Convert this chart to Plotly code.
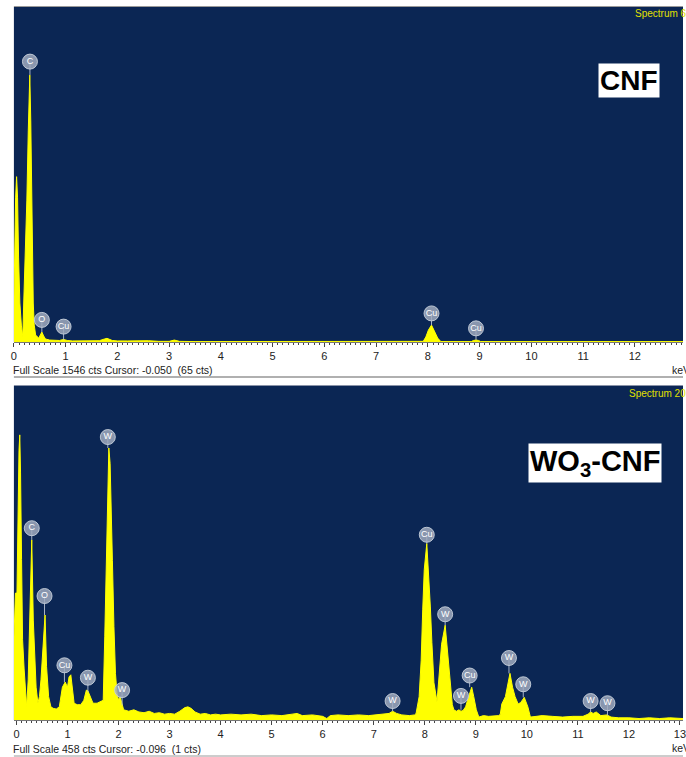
import plotly.graph_objects as go

# ---------------- data ----------------
# Top spectrum: CNF (Full scale 1546 cts)
top_E = [0.00, 0.013, 0.033, 0.052, 0.071, 0.09, 0.115, 0.144, 0.172,
         0.19, 0.22, 0.25, 0.278, 0.307, 0.326, 0.335, 0.354, 0.374, 0.393, 0.42,
         0.48, 0.52, 0.54, 0.575, 0.61, 0.69, 0.79, 0.88, 0.96, 1.03, 1.13,
         1.3, 1.5, 1.65, 1.75, 1.8, 1.9, 2.0, 2.2, 2.4, 2.5, 2.6, 2.8, 3.0, 3.1, 3.2,
         3.5, 4.0, 5.0, 6.0, 7.0, 7.85, 7.91, 7.96, 8.01, 8.07, 8.12, 8.19, 8.25,
         8.84, 8.88, 8.93, 8.98, 9.02, 10.0, 11.0, 12.0, 12.93]
top_cts = [180, 392, 665, 763, 665, 392, 180, 78, 23,
           180, 392, 655, 978, 1232, 1020, 840, 438, 180, 78, 32,
           18, 37, 46, 28, 14, 9, 9, 7, 12, 7, 5,
           5, 5, 6, 14, 17, 7, 5, 5, 6, 5, 6, 3, 3, 9, 3,
           2, 2, 2, 2, 2, 2, 3, 23, 55, 78, 55, 18, 2,
           2, 7, 9, 7, 2, 2, 2, 2, 2]

# Bottom spectrum: WO3-CNF (Full scale 458 cts)
bot_E = [-0.05, -0.02, 0.01, 0.03, 0.05, 0.065, 0.08, 0.10, 0.12, 0.15, 0.18, 0.20,
         0.23, 0.25, 0.27, 0.285, 0.30, 0.33, 0.36, 0.385, 0.42,
         0.45, 0.48, 0.515, 0.54, 0.56, 0.59, 0.63, 0.675, 0.72, 0.78, 0.84,
         0.90, 0.955, 1.0, 1.03, 1.065, 1.10, 1.13, 1.19, 1.26, 1.32, 1.37, 1.40,
         1.45, 1.50, 1.58, 1.65, 1.70, 1.73, 1.76, 1.785, 1.81, 1.835, 1.86, 1.88,
         1.91, 1.94, 1.97, 2.00, 2.03, 2.07, 2.10, 2.2, 2.3, 2.4, 2.5, 2.6, 2.7,
         2.8, 2.9, 3.0, 3.1, 3.2, 3.3, 3.36, 3.42, 3.5, 3.6, 3.7, 3.8, 3.9, 4.0,
         4.2, 4.4, 4.6, 4.8, 5.0, 5.2, 5.4, 5.5, 5.6, 5.8, 6.0, 6.08, 6.15, 6.3,
         6.5, 6.7, 6.9, 7.1, 7.3, 7.37, 7.45, 7.55, 7.7, 7.8,
         7.83, 7.89, 7.93, 7.96, 7.99, 8.04, 8.07, 8.11, 8.14, 8.18, 8.24, 8.28,
         8.33, 8.40, 8.44, 8.49, 8.54, 8.57, 8.62, 8.67, 8.71, 8.75, 8.80, 8.86,
         8.92, 8.96, 9.01, 9.06, 9.15, 9.25, 9.35, 9.45, 9.48, 9.51, 9.58, 9.63,
         9.67, 9.72, 9.77, 9.83, 9.88, 9.95, 10.02, 10.07, 10.15, 10.3, 10.5, 10.7,
         10.9, 11.1, 11.2, 11.25, 11.3, 11.36, 11.45, 11.52, 11.57, 11.65, 11.8,
         12.0, 12.2, 12.4, 12.6, 12.8, 13.06]
bot_cts = [110, 174, 174, 300, 370, 391, 340, 220, 110, 70, 30, 18,
           55, 110, 192, 233, 247, 137, 92, 45, 23,
           32, 55, 100, 137, 144, 73, 32, 18, 16, 15, 18,
           45, 52, 45, 59, 62, 41, 23, 21, 21, 27, 41, 40,
           32, 23, 23, 25, 27, 114, 229, 292, 373, 352, 292, 219,
           128, 64, 37, 27, 32, 23, 14, 12, 14, 11, 10, 12, 9,
           10, 8, 9, 8, 12, 17, 18, 16, 11, 8, 9, 7, 8, 7,
           8, 7, 8, 6, 7, 6, 8, 9, 6, 7, 5, 2, 6, 7,
           6, 7, 6, 7, 9, 12, 9, 7, 6, 7,
           9, 32, 82, 151, 206, 242, 210, 155, 106, 51, 25, 58,
           104, 130, 100, 59, 21, 14, 12, 14, 12, 13, 18, 32,
           45, 32, 14, 4, 6, 5, 6, 6, 8, 22, 32, 49,
           64, 45, 32, 22, 24, 31, 18, 4, 5, 6, 5, 4,
           5, 5, 8, 11, 9, 11, 6, 6, 7, 4, 3,
           3, 2, 3, 2, 3, 2]

# Element labels (energy, label height, peak height)
top_lbl_el = ["C", "O", "Cu", "Cu", "Cu"]
top_lbl_E = [0.31, 0.54, 0.96, 8.07, 8.93]
top_lbl_y = [1294, 102, 71, 132, 63]
top_lbl_peak = [1232, 46, 9, 78, 9]

bot_lbl_el = ["C", "O", "Cu", "W", "W", "W", "W", "Cu", "W", "W", "Cu", "W", "W", "W", "W"]
bot_lbl_E = [0.30, 0.55, 0.94, 1.40, 1.79, 2.07, 7.37, 8.04, 8.40, 8.71, 8.88, 9.65, 9.93, 11.25, 11.58]
bot_lbl_y = [263, 170, 75, 58, 388, 41, 26, 254, 145, 33, 61, 85, 49, 26, 23]
bot_lbl_peak = [247, 144, 52, 38, 373, 20, 12, 242, 130, 14, 45, 64, 31, 11, 6]

top_full_scale = 1546
bot_full_scale = 458
tick_vals = list(range(0, 14))

# ---------------- figure ----------------
W, H = 686, 757
def px(x):
    return x / W
def py(y):
    return (H - y) / H

BG = "#0b2654"
YEL = "#ffff00"
FONT = "Liberation Sans, Arial, sans-serif"

fig = go.Figure()

def add_panel(E, cts, lE, ly, lpk, lel, xa, ya):
    fig.add_trace(go.Scatter(x=E, y=cts, mode="lines", fill="tozeroy",
                             line=dict(color=YEL, width=1), fillcolor=YEL,
                             xaxis=xa, yaxis=ya, showlegend=False, hoverinfo="skip"))
    sx, sy = [], []
    for e, a, b in zip(lE, ly, lpk):
        sx += [e, e, None]
        sy += [b, a, None]
    fig.add_trace(go.Scatter(x=sx, y=sy, mode="lines",
                             line=dict(color="rgba(185,195,212,0.9)", width=1),
                             xaxis=xa, yaxis=ya, showlegend=False, hoverinfo="skip"))
    fig.add_trace(go.Scatter(x=lE, y=ly, mode="markers+text", text=lel,
                             textposition="middle center",
                             textfont=dict(color="white", size=9, family=FONT),
                             marker=dict(size=15, color="rgba(160,170,190,0.85)",
                                         line=dict(color="rgba(200,208,220,0.9)", width=1)),
                             xaxis=xa, yaxis=ya, showlegend=False, hoverinfo="skip"))

add_panel(top_E, top_cts, top_lbl_E, top_lbl_y, top_lbl_peak, top_lbl_el, "x", "y")
add_panel(bot_E, bot_cts, bot_lbl_E, bot_lbl_y, bot_lbl_peak, bot_lbl_el, "x2", "y2")

xcommon = dict(tickmode="array", tickvals=tick_vals, ticks="outside", ticklen=4,
               tickcolor="#444", tickwidth=1, showgrid=False, zeroline=False,
               showline=True, linecolor="#777", linewidth=1,
               ticklabeloverflow="allow",
               tickfont=dict(size=11, color="#222", family=FONT),
               minor=dict(dtick=0.1, tick0=0, ticks="outside", ticklen=2,
                          tickcolor="#444", showgrid=False))

fig.update_layout(
    width=W, height=H, margin=dict(l=0, r=0, t=0, b=0),
    paper_bgcolor="white", plot_bgcolor=BG,
    xaxis=dict(domain=[px(11), 1], range=[0, 12.93], anchor="y", **xcommon),
    yaxis=dict(domain=[py(342), py(7)], range=[0, top_full_scale], visible=False),
    xaxis2=dict(domain=[px(11), 1], range=[-0.05, 13.06], anchor="y2", **xcommon),
    yaxis2=dict(domain=[py(720), py(386)], range=[0, bot_full_scale], visible=False),
)

ann = []
# sample labels
ann.append(dict(text="<b>CNF</b>", x=px(632), y=py(80), xref="paper", yref="paper",
                showarrow=False, font=dict(size=28, color="black", family=FONT),
                bgcolor="white", borderpad=1, xanchor="center", yanchor="middle"))
ann.append(dict(text="<b>WO<sub>3</sub>-CNF</b>", x=px(597), y=py(463), xref="paper", yref="paper",
                showarrow=False, font=dict(size=29, color="black", family=FONT),
                bgcolor="white", borderpad=1, xanchor="center", yanchor="middle"))
# Spectrum names (cut by the right edge as in the original)
ann.append(dict(text="Spectrum 6", x=px(636), y=py(14), xref="paper", yref="paper",
                showarrow=False, font=dict(size=10, color="#e0e000", family=FONT),
                xanchor="left", yanchor="middle"))
ann.append(dict(text="Spectrum 20", x=px(630), y=py(393), xref="paper", yref="paper",
                showarrow=False, font=dict(size=10, color="#e0e000", family=FONT),
                xanchor="left", yanchor="middle"))
# status lines
ann.append(dict(text="Full Scale %d cts Cursor: -0.050  (65 cts)" % top_full_scale,
                x=px(8), y=py(370), xref="paper", yref="paper", showarrow=False,
                font=dict(size=10.5, color="#222", family=FONT), xanchor="left", yanchor="middle"))
ann.append(dict(text="Full Scale %d cts Cursor: -0.096  (1 cts)" % bot_full_scale,
                x=px(8), y=py(749), xref="paper", yref="paper", showarrow=False,
                font=dict(size=10.5, color="#222", family=FONT), xanchor="left", yanchor="middle"))
ann.append(dict(text="keV", x=px(673), y=py(370), xref="paper", yref="paper", showarrow=False,
                font=dict(size=10.5, color="#222", family=FONT), xanchor="left", yanchor="middle"))
ann.append(dict(text="keV", x=px(673), y=py(748), xref="paper", yref="paper", showarrow=False,
                font=dict(size=10.5, color="#222", family=FONT), xanchor="left", yanchor="middle"))
fig.update_layout(annotations=ann)

shapes = []
for yy, col, w in [(6.5, "#9a9a9a", 1), (377, "#b0b0b0", 2), (385.5, "#8a93a8", 1), (756, "#9a9a9a", 1)]:
    shapes.append(dict(type="line", xref="paper", yref="paper", x0=px(11), x1=1,
                       y0=py(yy), y1=py(yy), line=dict(color=col, width=w)))
fig.update_layout(shapes=shapes)

fig.write_html("out.html", config={"displayModeBar": False},
               post_script="document.body.style.margin='0';document.body.style.overflow='hidden';")
